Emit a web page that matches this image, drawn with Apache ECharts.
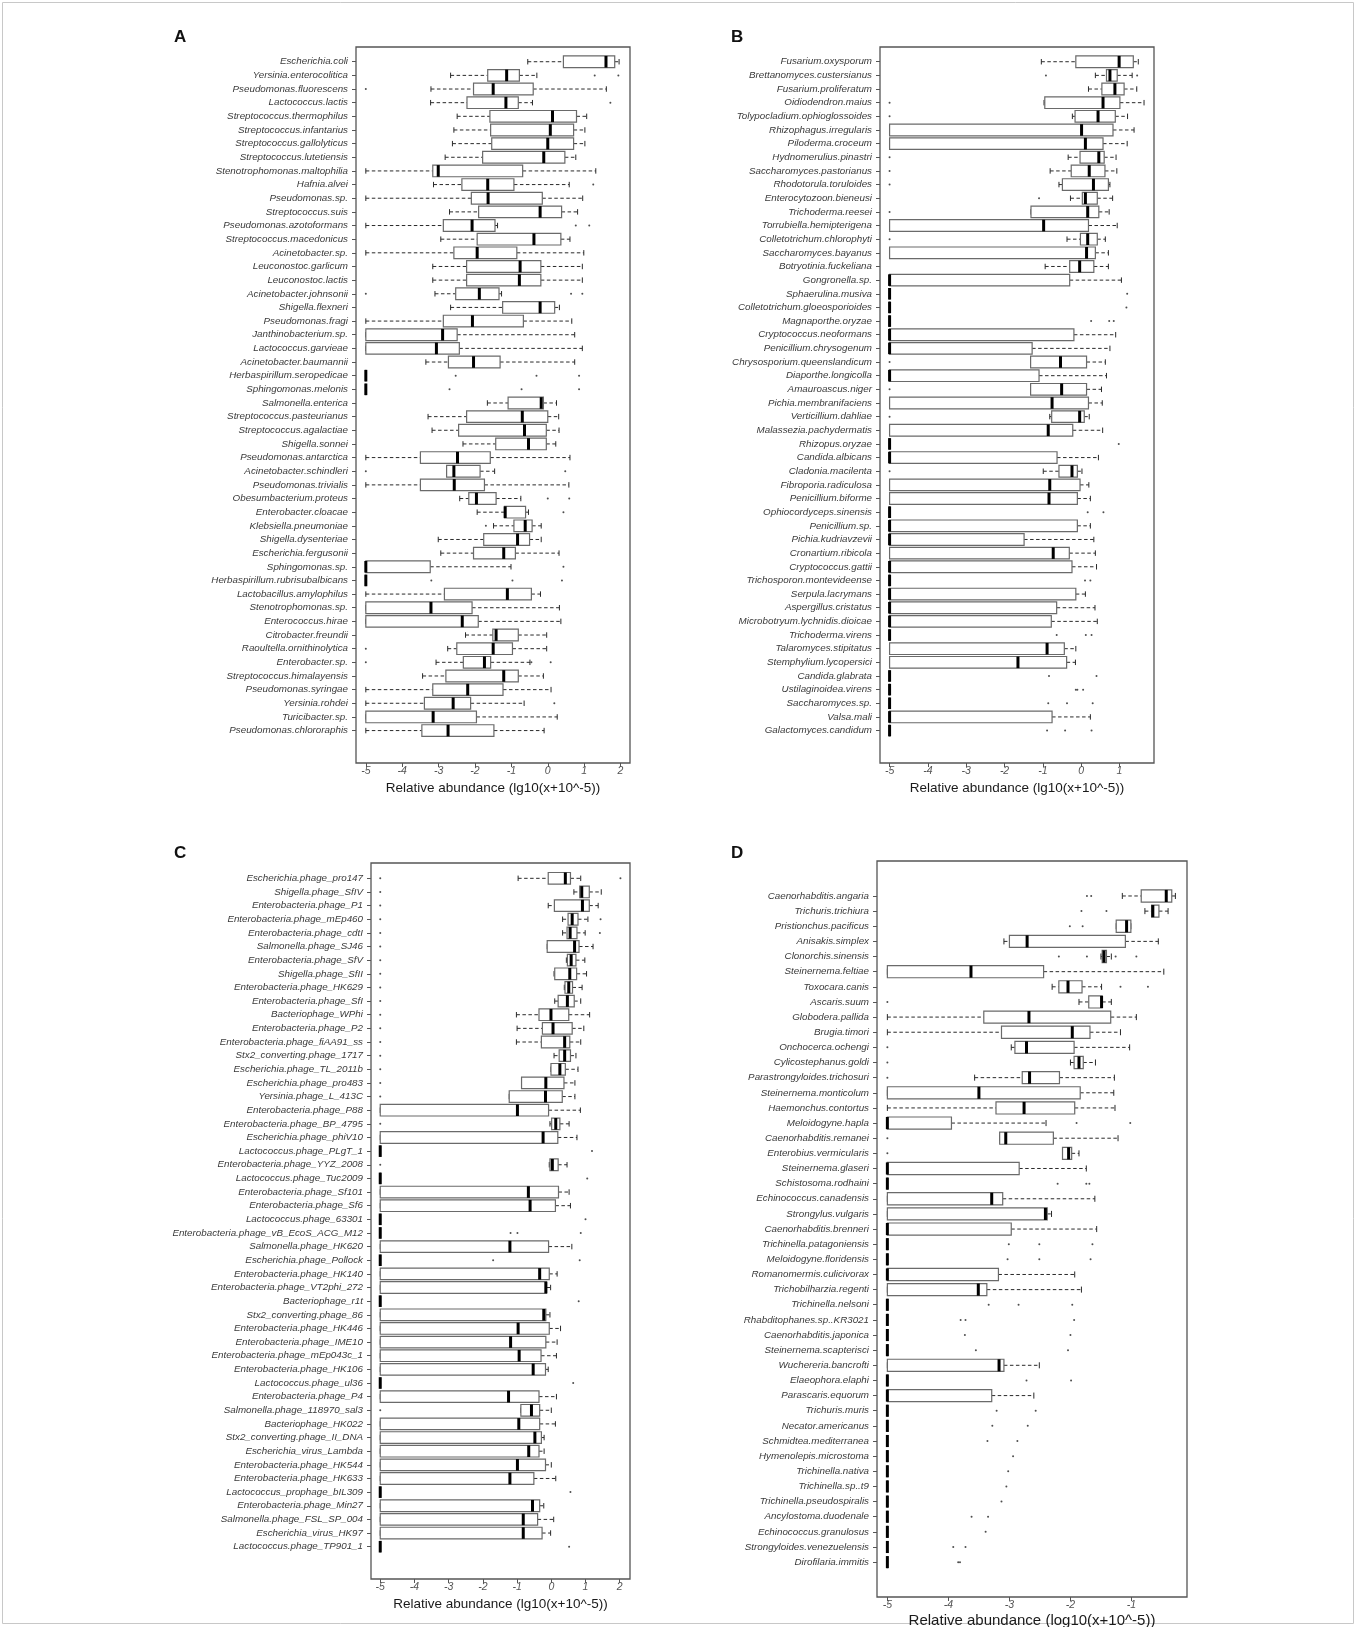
<!DOCTYPE html>
<html>
<head>
<meta charset="utf-8">
<title>Relative abundance boxplots</title>
<script src="https://cdn.jsdelivr.net/npm/echarts@6.0.0/dist/echarts.min.js"></script>
<style>
  html, body { margin: 0; padding: 0; background: #fff; }
  #chart { width: 1357px; height: 1627px; }
</style>
</head>
<body>
<div id="chart"></div>
<script>
// all-zero sample: every value at the detection floor
const Z = [-5, -5, -5, -5, -5];

// ---- panel A: bacteria ----
const catsA = ["Escherichia.coli", "Yersinia.enterocolitica", "Pseudomonas.fluorescens", "Lactococcus.lactis",
  "Streptococcus.thermophilus", "Streptococcus.infantarius", "Streptococcus.gallolyticus", "Streptococcus.lutetiensis",
  "Stenotrophomonas.maltophilia", "Hafnia.alvei", "Pseudomonas.sp.", "Streptococcus.suis", "Pseudomonas.azotoformans",
  "Streptococcus.macedonicus", "Acinetobacter.sp.", "Leuconostoc.garlicum", "Leuconostoc.lactis", "Acinetobacter.johnsonii",
  "Shigella.flexneri", "Pseudomonas.fragi", "Janthinobacterium.sp.", "Lactococcus.garvieae", "Acinetobacter.baumannii",
  "Herbaspirillum.seropedicae", "Sphingomonas.melonis", "Salmonella.enterica", "Streptococcus.pasteurianus",
  "Streptococcus.agalactiae", "Shigella.sonnei", "Pseudomonas.antarctica", "Acinetobacter.schindleri", "Pseudomonas.trivialis",
  "Obesumbacterium.proteus", "Enterobacter.cloacae", "Klebsiella.pneumoniae", "Shigella.dysenteriae", "Escherichia.fergusonii",
  "Sphingomonas.sp.", "Herbaspirillum.rubrisubalbicans", "Lactobacillus.amylophilus", "Stenotrophomonas.sp.", "Enterococcus.hirae",
  "Citrobacter.freundii", "Raoultella.ornithinolytica", "Enterobacter.sp.", "Streptococcus.himalayensis", "Pseudomonas.syringae",
  "Yersinia.rohdei", "Turicibacter.sp.", "Pseudomonas.chlororaphis"];
// [lower whisker, Q1, median, Q3, upper whisker]
const statsA = [
  [-0.55, 0.43, 1.60, 1.84, 1.96], [-2.67, -1.65, -1.13, -0.78, -0.30], [-3.21, -2.04, -1.50, -0.40, 1.61], [-3.22, -2.22, -1.15, -0.81, -0.42],
  [-2.49, -1.59, 0.13, 0.79, 1.07], [-2.58, -1.57, 0.07, 0.71, 1.02], [-2.62, -1.54, 0.00, 0.71, 1.02], [-2.82, -1.79, -0.11, 0.47, 0.77],
  [-5, -3.16, -3.01, -0.69, 1.32], [-3.14, -2.36, -1.65, -0.93, 0.59], [-5, -2.10, -1.64, -0.15, 0.96], [-2.70, -1.90, -0.21, 0.38, 0.82],
  [-5, -2.87, -2.08, -1.45, -1.38], [-2.94, -1.94, -0.38, 0.36, 0.61], [-5, -2.58, -1.94, -0.85, 0.99], [-3.16, -2.23, -0.76, -0.19, 0.95],
  [-3.16, -2.23, -0.78, -0.19, 0.95], [-3.10, -2.53, -1.88, -1.34, -1.27], [-2.67, -1.24, -0.21, 0.19, 0.32], [-5, -2.87, -2.07, -0.67, 0.66],
  [-5, -5, -2.89, -2.49, 0.74], [-5, -5, -3.06, -2.43, 0.95], [-3.35, -2.73, -2.04, -1.31, 0.74], Z,
  Z, [-1.66, -1.09, -0.18, -0.12, 0.24], [-3.29, -2.23, -0.70, 0.00, 0.30], [-3.18, -2.45, -0.64, -0.04, 0.31],
  [-2.33, -1.43, -0.53, -0.04, 0.22], [-5, -3.50, -2.48, -1.58, 0.61], [-2.78, -2.78, -2.58, -1.86, -1.46], [-5, -3.50, -2.57, -1.74, 0.58],
  [-2.42, -2.17, -1.96, -1.42, -0.74], [-1.94, -1.19, -1.17, -0.61, -0.53], [-1.49, -0.93, -0.62, -0.43, -0.18], [-3.01, -1.76, -0.83, -0.50, -0.18],
  [-2.94, -2.04, -1.21, -0.89, 0.31], [-5, -5, -5, -3.23, -1.01], Z, [-5, -2.84, -1.11, -0.45, -0.20],
  [-5, -5, -3.21, -2.08, 0.32], [-5, -5, -2.35, -1.91, 0.36], [-2.26, -1.51, -1.42, -0.81, -0.03], [-2.75, -2.50, -1.50, -0.97, -0.03],
  [-3.07, -2.32, -1.74, -1.57, -0.49], [-3.44, -2.80, -1.21, -0.81, -0.12], [-5, -3.16, -2.20, -1.23, 0.09], [-5, -3.39, -2.60, -2.12, -0.65],
  [-5, -5, -3.15, -1.96, 0.26], [-5, -3.46, -2.74, -1.48, -0.10]];
const outA = [[], [1.29, 1.94], [-5], [1.72], [], [], [], [], [], [1.25], [], [], [0.77, 1.14], [], [], [], [], [-5, 0.64, 0.95],
  [], [], [], [], [], [-2.53, -0.31, 0.86], [-2.70, -0.72, 0.86], [], [], [], [], [], [-5, 0.48], [], [0.0, 0.59], [0.43], [-1.70], [],
  [], [0.43], [-3.20, -0.97, 0.39], [], [], [], [], [-5], [-5, -0.45, 0.08], [], [], [0.18], [], []];

// ---- panel B: fungi ----
const catsB = ["Fusarium.oxysporum", "Brettanomyces.custersianus", "Fusarium.proliferatum", "Oidiodendron.maius",
  "Tolypocladium.ophioglossoides", "Rhizophagus.irregularis", "Piloderma.croceum", "Hydnomerulius.pinastri",
  "Saccharomyces.pastorianus", "Rhodotorula.toruloides", "Enterocytozoon.bieneusi", "Trichoderma.reesei",
  "Torrubiella.hemipterigena", "Colletotrichum.chlorophyti", "Saccharomyces.bayanus", "Botryotinia.fuckeliana",
  "Gongronella.sp.", "Sphaerulina.musiva", "Colletotrichum.gloeosporioides", "Magnaporthe.oryzae", "Cryptococcus.neoformans",
  "Penicillium.chrysogenum", "Chrysosporium.queenslandicum", "Diaporthe.longicolla", "Amauroascus.niger",
  "Pichia.membranifaciens", "Verticillium.dahliae", "Malassezia.pachydermatis", "Rhizopus.oryzae", "Candida.albicans",
  "Cladonia.macilenta", "Fibroporia.radiculosa", "Penicillium.biforme", "Ophiocordyceps.sinensis", "Penicillium.sp.",
  "Pichia.kudriavzevii", "Cronartium.ribicola", "Cryptococcus.gattii", "Trichosporon.montevideense", "Serpula.lacrymans",
  "Aspergillus.cristatus", "Microbotryum.lychnidis.dioicae", "Trichoderma.virens", "Talaromyces.stipitatus",
  "Stemphylium.lycopersici", "Candida.glabrata", "Ustilaginoidea.virens", "Saccharomyces.sp.", "Valsa.mali",
  "Galactomyces.candidum"];
const statsB = [
  [-1.04, -0.14, 0.99, 1.36, 1.49], [0.37, 0.66, 0.75, 0.94, 1.33], [0.19, 0.54, 0.88, 1.12, 1.45], [-0.97, -0.95, 0.57, 1.01, 1.64],
  [-0.23, -0.16, 0.44, 0.89, 1.21], [-5, -5, 0.01, 0.83, 1.38], [-5, -5, 0.11, 0.57, 1.20], [-0.34, -0.03, 0.46, 0.60, 0.91],
  [-0.81, -0.26, 0.21, 0.62, 0.93], [-0.58, -0.49, 0.32, 0.71, 0.75], [-0.28, 0.03, 0.11, 0.42, 0.82], [-1.31, -1.31, 0.17, 0.46, 0.73],
  [-5, -5, -0.98, 0.19, 0.94], [-0.37, -0.02, 0.17, 0.42, 0.63], [-5, -5, 0.14, 0.37, 0.71], [-0.94, -0.30, -0.04, 0.33, 0.71],
  [-5, -5, -5, -0.30, 1.05], Z, Z, Z,
  [-5, -5, -5, -0.19, 0.90], [-5, -5, -5, -1.28, 0.75], [-1.32, -1.32, -0.54, 0.14, 0.63], [-5, -5, -5, -1.10, 0.66],
  [-1.32, -1.32, -0.51, 0.14, 0.53], [-5, -5, -0.76, 0.19, 0.55], [-0.82, -0.77, -0.04, 0.08, 0.21], [-5, -5, -0.86, -0.22, 0.56],
  Z, [-5, -5, -5, -0.63, 0.45], [-0.99, -0.58, -0.24, -0.10, 0.02], [-5, -5, -0.82, -0.03, 0.20],
  [-5, -5, -0.84, -0.10, 0.24], Z, [-5, -5, -5, -0.10, 0.24], [-5, -5, -5, -1.49, 0.33],
  [-5, -5, -0.73, -0.31, 0.37], [-5, -5, -5, -0.24, 0.40], Z, [-5, -5, -5, -0.14, 0.11],
  [-5, -5, -5, -0.64, 0.36], [-5, -5, -5, -0.78, 0.42], Z, [-5, -5, -0.89, -0.44, -0.14],
  [-5, -5, -1.65, -0.38, -0.15], Z, Z, Z, [-5, -5, -5, -0.76, 0.24], Z];
const outB = [[], [-0.92, 1.46], [], [-5], [-5], [], [], [-5], [-5], [-5], [-1.10], [-5], [], [-5], [], [], [], [1.20], [1.18],
  [0.26, 0.73, 0.85], [], [], [-5], [], [-5], [], [-5], [], [0.98], [], [-5], [], [], [0.17, 0.58], [], [], [], [], [0.10, 0.24],
  [], [], [], [-0.64, 0.12, 0.27], [], [], [-0.84, 0.40], [-0.14, -0.10, 0.05], [-0.86, -0.37, 0.30], [], [-0.89, -0.42, 0.27]];

// ---- panel C: phages ----
const catsC = ["Escherichia.phage_pro147", "Shigella.phage_SfIV", "Enterobacteria.phage_P1", "Enterobacteria.phage_mEp460",
  "Enterobacteria.phage_cdtI", "Salmonella.phage_SJ46", "Enterobacteria.phage_SfV", "Shigella.phage_SfII",
  "Enterobacteria.phage_HK629", "Enterobacteria.phage_SfI", "Bacteriophage_WPhi", "Enterobacteria.phage_P2",
  "Enterobacteria.phage_fiAA91_ss", "Stx2_converting.phage_1717", "Escherichia.phage_TL_2011b", "Escherichia.phage_pro483",
  "Yersinia.phage_L_413C", "Enterobacteria.phage_P88", "Enterobacteria.phage_BP_4795", "Escherichia.phage_phiV10",
  "Lactococcus.phage_PLgT_1", "Enterobacteria.phage_YYZ_2008", "Lactococcus.phage_Tuc2009", "Enterobacteria.phage_Sf101",
  "Enterobacteria.phage_Sf6", "Lactococcus.phage_63301", "Enterobacteria.phage_vB_EcoS_ACG_M12", "Salmonella.phage_HK620",
  "Escherichia.phage_Pollock", "Enterobacteria.phage_HK140", "Enterobacteria.phage_VT2phi_272", "Bacteriophage_r1t",
  "Stx2_converting.phage_86", "Enterobacteria.phage_HK446", "Enterobacteria.phage_IME10", "Enterobacteria.phage_mEp043c_1",
  "Enterobacteria.phage_HK106", "Lactococcus.phage_ul36", "Enterobacteria.phage_P4", "Salmonella.phage_118970_sal3",
  "Bacteriophage_HK022", "Stx2_converting.phage_II_DNA", "Escherichia_virus_Lambda", "Enterobacteria.phage_HK544",
  "Enterobacteria.phage_HK633", "Lactococcus_prophage_bIL309", "Enterobacteria.phage_Min27", "Salmonella.phage_FSL_SP_004",
  "Escherichia_virus_HK97", "Lactococcus.phage_TP901_1"];
const statsC = [
  [-0.97, -0.09, 0.41, 0.56, 0.86], [0.66, 0.83, 0.89, 1.11, 1.46], [-0.09, 0.09, 0.91, 1.11, 1.37], [0.33, 0.49, 0.61, 0.78, 1.07],
  [0.33, 0.46, 0.55, 0.75, 0.99], [-0.12, -0.12, 0.68, 0.81, 1.22], [0.44, 0.47, 0.58, 0.72, 0.98], [0.08, 0.10, 0.54, 0.74, 1.03],
  [0.38, 0.40, 0.51, 0.62, 0.90], [0.10, 0.20, 0.47, 0.67, 0.86], [-1.02, -0.36, -0.01, 0.51, 1.12], [-1.00, -0.26, 0.05, 0.61, 0.95],
  [-1.02, -0.29, 0.39, 0.54, 0.86], [0.08, 0.23, 0.39, 0.56, 0.72], [-0.01, -0.01, 0.25, 0.41, 0.78], [-0.87, -0.87, -0.16, 0.37, 0.69],
  [-1.23, -1.23, -0.17, 0.32, 0.69], [-5, -5, -0.99, -0.08, 0.85], [-0.04, 0.01, 0.13, 0.25, 0.52], [-5, -5, -0.24, 0.19, 0.75],
  Z, [-0.06, -0.04, 0.03, 0.20, 0.46], Z, [-5, -5, -0.67, 0.21, 0.52],
  [-5, -5, -0.62, 0.12, 0.56], Z, Z, [-5, -5, -1.21, -0.08, 0.60],
  Z, [-5, -5, -0.34, -0.06, 0.17], [-5, -5, -0.16, -0.14, -0.02], Z,
  [-5, -5, -0.22, -0.16, -0.04], [-5, -5, -0.97, -0.06, 0.27], [-5, -5, -1.19, -0.16, 0.17], [-5, -5, -0.94, -0.30, 0.15],
  [-5, -5, -0.53, -0.17, -0.09], Z, [-5, -5, -1.25, -0.36, 0.15], [-0.89, -0.89, -0.58, -0.34, 0.00],
  [-5, -5, -0.95, -0.34, 0.12], [-5, -5, -0.48, -0.29, -0.21], [-5, -5, -0.66, -0.36, -0.21], [-5, -5, -0.99, -0.17, 0.00],
  [-5, -5, -1.21, -0.51, 0.13], Z, [-5, -5, -0.55, -0.34, -0.22], [-5, -5, -0.82, -0.40, 0.07],
  [-5, -5, -0.82, -0.27, -0.02], Z];
const outC = [[-5, 2.02], [-5], [-5], [-5, 1.44], [-5, 1.42], [-5], [-5], [-5], [-5], [-5], [-5], [-5], [-5], [-5], [-5], [-5],
  [-5], [], [-5], [], [1.19], [-5], [1.05], [], [], [1.00], [-1.19, -0.99, 0.86], [], [-1.70, 0.83], [], [], [0.80], [], [], [],
  [], [], [0.64], [], [-5], [], [], [], [], [], [0.56], [], [], [], [0.52]];

// ---- panel D: helminths ----
const catsD = ["Caenorhabditis.angaria", "Trichuris.trichiura", "Pristionchus.pacificus", "Anisakis.simplex",
  "Clonorchis.sinensis", "Steinernema.feltiae", "Toxocara.canis", "Ascaris.suum", "Globodera.pallida", "Brugia.timori",
  "Onchocerca.ochengi", "Cylicostephanus.goldi", "Parastrongyloides.trichosuri", "Steinernema.monticolum",
  "Haemonchus.contortus", "Meloidogyne.hapla", "Caenorhabditis.remanei", "Enterobius.vermicularis", "Steinernema.glaseri",
  "Schistosoma.rodhaini", "Echinococcus.canadensis", "Strongylus.vulgaris", "Caenorhabditis.brenneri",
  "Trichinella.patagoniensis", "Meloidogyne.floridensis", "Romanomermis.culicivorax", "Trichobilharzia.regenti",
  "Trichinella.nelsoni", "Rhabditophanes.sp..KR3021", "Caenorhabditis.japonica", "Steinernema.scapterisci",
  "Wuchereria.bancrofti", "Elaeophora.elaphi", "Parascaris.equorum", "Trichuris.muris", "Necator.americanus",
  "Schmidtea.mediterranea", "Hymenolepis.microstoma", "Trichinella.nativa", "Trichinella.sp..t9",
  "Trichinella.pseudospiralis", "Ancylostoma.duodenale", "Echinococcus.granulosus", "Strongyloides.venezuelensis",
  "Dirofilaria.immitis"];
const statsD = [
  [-1.15, -0.84, -0.43, -0.34, -0.28], [-0.78, -0.67, -0.65, -0.55, -0.40], [-1.25, -1.25, -1.08, -1.01, -1.01], [-3.09, -3.00, -2.71, -1.10, -0.56],
  [-1.50, -1.48, -1.45, -1.41, -1.33], [-5, -5, -3.63, -2.44, -0.47], [-2.30, -2.19, -2.04, -1.81, -1.49], [-1.86, -1.70, -1.49, -1.48, -1.33],
  [-5, -3.42, -2.68, -1.34, -0.92], [-5, -3.13, -1.97, -1.68, -1.18], [-2.97, -2.91, -2.72, -1.94, -1.03], [-2.00, -1.94, -1.86, -1.79, -1.59],
  [-3.57, -2.79, -2.67, -2.18, -1.28], [-5, -5, -3.50, -1.84, -1.29], [-5, -3.22, -2.76, -1.93, -1.27], [-5, -5, -5, -3.95, -2.40],
  [-3.16, -3.16, -3.06, -2.28, -1.22], [-2.13, -2.13, -2.03, -1.98, -1.86], [-5, -5, -5, -2.84, -1.74], Z,
  [-5, -5, -3.29, -3.11, -1.60], [-5, -5, -2.41, -2.38, -2.31], [-5, -5, -5, -2.97, -1.57], Z,
  Z, [-5, -5, -5, -3.18, -1.93], [-5, -5, -3.51, -3.37, -1.82], Z,
  Z, Z, Z, [-5, -5, -3.17, -3.09, -2.51],
  Z, [-5, -5, -5, -3.29, -2.60], Z, Z, Z, Z, Z, Z, Z, Z, Z, Z, Z];
const outD = [[-1.73, -1.66], [-1.82, -1.41], [-2.01, -1.80], [], [-2.19, -1.73, -1.26, -0.92], [], [-1.18, -0.73], [-5], [], [],
  [-5], [-5], [-5], [], [], [-1.90, -1.02], [-5], [-5], [], [-2.21, -1.74, -1.69], [], [], [], [-3.01, -2.51, -1.64],
  [-3.03, -2.51, -1.67], [], [], [-3.34, -2.85, -1.97], [-3.80, -3.72, -1.94], [-3.73, -2.00], [-3.55, -2.04], [],
  [-2.72, -1.99], [], [-3.21, -2.57], [-3.28, -2.70], [-3.36, -2.87], [-2.94], [-3.02], [-3.05], [-3.13], [-3.62, -3.35],
  [-3.39], [-3.92, -3.72], [-3.84, -3.81]];

// tick labels of the x axes
const ticksAC = [-5, -4, -3, -2, -1, 0, 1, 2];
const ticksB = [-5, -4, -3, -2, -1, 0, 1];
const ticksD = [-5, -4, -3, -2, -1];

const FONT = "'Liberation Sans', Arial, sans-serif";

// layout: frame = [left, top, width, height], rows = [top, height] of the category band area
const panels = [
  { key: "A", cats: catsA, stats: statsA, outs: outA, ticks: ticksAC, range: [-5.27, 2.26],
    frame: [356, 47, 274, 716], rows: [54.9, 682.5], name: "Relative abundance (lg10(x+10^-5))",
    nameSize: 13.5, nameGap: 18, letter: [169, 24], ratio: 0.85 },
  { key: "B", cats: catsB, stats: statsB, outs: outB, ticks: ticksB, range: [-5.25, 1.9],
    frame: [880, 47, 274, 716], rows: [54.9, 682.5], name: "Relative abundance (lg10(x+10^-5))",
    nameSize: 13.5, nameGap: 18, letter: [726, 24], ratio: 0.85 },
  { key: "C", cats: catsC, stats: statsC, outs: outC, ticks: ticksAC, range: [-5.27, 2.3],
    frame: [371, 863, 259, 716], rows: [871.5, 682], name: "Relative abundance (lg10(x+10^-5))",
    nameSize: 13.5, nameGap: 18, letter: [169, 840], ratio: 0.85 },
  { key: "D", cats: catsD, stats: statsD, outs: outD, ticks: ticksD, range: [-5.17, -0.09],
    frame: [877, 861, 310, 736], rows: [888.4, 681.3], name: "Relative abundance (log10(x+10^-5))",
    nameSize: 15, nameGap: 16, letter: [726, 840], ratio: 0.8 }
];

// R-style box: dashed whiskers with staples, white box, thick median
function makeRender(ratio) {
  return function (params, api) {
    const c = api.value(0);
    const band = api.size([0, 1])[1];
    const h = band * ratio / 2;
    const cap = band * 0.2;
    const y = api.coord([api.value(1), c])[1];
    const x = [1, 2, 3, 4, 5].map(d => api.coord([api.value(d), c])[0]);
    const dash = { stroke: "#2a2a2a", lineWidth: 1, lineDash: [3.5, 2.5], fill: null };
    const solid = { stroke: "#2a2a2a", lineWidth: 1, fill: null };
    return {
      type: "group",
      children: [
        { type: "line", shape: { x1: x[0], y1: y, x2: x[1], y2: y }, style: dash },
        { type: "line", shape: { x1: x[3], y1: y, x2: x[4], y2: y }, style: dash },
        { type: "line", shape: { x1: x[0], y1: y - cap, x2: x[0], y2: y + cap }, style: solid },
        { type: "line", shape: { x1: x[4], y1: y - cap, x2: x[4], y2: y + cap }, style: solid },
        { type: "rect", shape: { x: x[1], y: y - h, width: x[3] - x[1], height: 2 * h },
          style: { fill: "#fff", stroke: "#6a6a6a", lineWidth: 1.2 } },
        { type: "line", shape: { x1: x[2], y1: y - h, x2: x[2], y2: y + h },
          style: { stroke: "#000", lineWidth: 3 } }
      ]
    };
  };
}

const grid = [], xAxis = [], yAxis = [], series = [], title = [];
panels.forEach((p, k) => {
  const fi = 2 * k, di = 2 * k + 1;
  // frame grid: border + x axis
  grid.push({ left: p.frame[0], top: p.frame[1], width: p.frame[2], height: p.frame[3],
    show: true, borderColor: "#555", borderWidth: 1.3, backgroundColor: "transparent", outerBoundsMode: "none" });
  // data grid: category bands
  grid.push({ left: p.frame[0], top: p.rows[0], width: p.frame[2], height: p.rows[1],
    show: false, outerBoundsMode: "none" });

  xAxis.push({
    gridIndex: fi, type: "value", min: p.range[0], max: p.range[1],
    axisLine: { show: false, onZero: false }, splitLine: { show: false },
    axisTick: { show: true, length: 4, customValues: p.ticks, lineStyle: { color: "#555", width: 1 } },
    axisLabel: { customValues: p.ticks, margin: 3, fontSize: 10.5, fontStyle: "italic", color: "#555", fontFamily: FONT },
    name: p.name, nameLocation: "middle", nameGap: p.nameGap,
    nameTextStyle: { fontSize: p.nameSize, color: "#1a1a1a", fontFamily: FONT }
  });
  yAxis.push({ gridIndex: fi, type: "value", show: false, min: 0, max: 1, axisLine: { onZero: false } });

  xAxis.push({ gridIndex: di, type: "value", show: false, min: p.range[0], max: p.range[1], axisLine: { onZero: false } });
  yAxis.push({
    gridIndex: di, type: "category", data: p.cats, inverse: true,
    axisLine: { show: false, onZero: false }, splitLine: { show: false },
    axisTick: { show: true, length: 4, alignWithLabel: true, lineStyle: { color: "#555", width: 1 } },
    axisLabel: { interval: 0, margin: 8, fontSize: 9.8, fontStyle: "italic", color: "#3a3a3a", fontFamily: FONT }
  });

  series.push({
    type: "custom", xAxisIndex: di, yAxisIndex: di, renderItem: makeRender(p.ratio),
    data: p.stats.map((s, i) => [i].concat(s)), encode: { x: [1, 2, 3, 4, 5], y: 0 }, silent: true
  });
  series.push({
    type: "scatter", xAxisIndex: di, yAxisIndex: di, symbol: "circle", symbolSize: 2,
    itemStyle: { color: "#222" }, silent: true,
    data: p.outs.flatMap((a, i) => a.map(v => [v, i]))
  });
  title.push({ text: p.key, left: p.letter[0], top: p.letter[1],
    textStyle: { fontSize: 17, fontWeight: "bold", color: "#111", fontFamily: FONT } });
});

const myChart = echarts.init(document.getElementById("chart"), null, { renderer: "canvas" });
myChart.setOption({
  animation: false,
  backgroundColor: "#fff",
  title: title,
  grid: grid,
  xAxis: xAxis,
  yAxis: yAxis,
  series: series,
  graphic: [{
    type: "rect", silent: true,
    shape: { x: 2.5, y: 2.5, width: 1351, height: 1621 },
    style: { fill: null, stroke: "#c8c8c8", lineWidth: 1 }
  }]
});
</script>
</body>
</html>
